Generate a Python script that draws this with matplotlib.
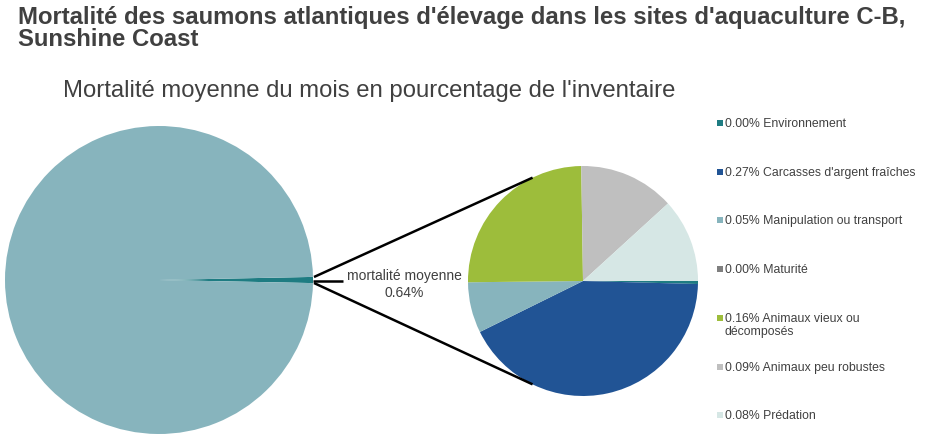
import numpy as np
import matplotlib
matplotlib.use("Agg")
import matplotlib.pyplot as plt
from matplotlib.patches import Rectangle

plt.rcParams['font.family'] = ['Liberation Sans', 'DejaVu Sans']

# ---- data ----
title = "Mortalité des saumons atlantiques d'élevage dans les sites d'aquaculture C-B,\nSunshine Coast"
subtitle = "Mortalité moyenne du mois en pourcentage de l'inventaire"
mean_label = "mortalité moyenne"
mean_mortality = 0.64          # % of inventory
categories = ["Environnement", "Carcasses d'argent fraîches", "Manipulation ou transport",
              "Maturité", "Animaux vieux ou\ndécomposés", "Animaux peu robustes", "Prédation"]
values = [0.0027, 0.273, 0.046, 0.0, 0.161, 0.087, 0.076]
colors = ["#1e7c82", "#215495", "#87b4bd", "#7f7f7f", "#9dbd3b", "#bfbfbf", "#d6e7e5"]
big_colors = ["#1e7c82", "#87b4bd"]

W, H = 928, 440
fig = plt.figure(figsize=(W / 100, H / 100), dpi=100)
ax = fig.add_axes([0, 0, 1, 1])
ax.set_xlim(0, W)
ax.set_ylim(0, H)
ax.set_aspect('equal')
ax.axis('off')

def Y(py):
    return H - py

txtc = "#404040"

# titles (anchored at the baseline of the last line)
ax.text(18, Y(46), title, fontsize=17.2, fontweight='bold', color=txtc,
        va='baseline', ha='left', linespacing=0.93)
ax.text(63, Y(97), subtitle, fontsize=17.2, color=txtc, va='baseline', ha='left')

# big pie
big_c = (159, Y(280))
big_r = 154
frac = mean_mortality / 100.0
ang = frac * 360
ax.pie([mean_mortality, 100 - mean_mortality], colors=big_colors, center=big_c, radius=big_r,
       startangle=-ang / 2, counterclock=True, frame=True,
       wedgeprops=dict(linewidth=0))

# small pie
small_c = (583, Y(281))
small_r = 115
ax.pie(values, colors=colors, center=small_c, radius=small_r, startangle=0,
       counterclock=False, frame=True, wedgeprops=dict(linewidth=0))

ax.set_xlim(0, W)
ax.set_ylim(0, H)
ax.axis('off')

# connector lines
theta = np.deg2rad(116)
bx = big_c[0] + big_r
for s in (1, -1):
    p0 = (bx + 1, big_c[1] + s * 3)
    p1 = (small_c[0] + small_r * np.cos(theta), small_c[1] + s * small_r * np.sin(theta))
    ax.plot([p0[0], p1[0]], [p0[1], p1[1]], color='black', lw=1.8, solid_capstyle='butt')
ax.plot([bx, bx + 30], [big_c[1] - 0.5, big_c[1] - 0.5], color='black', lw=1.8,
        solid_capstyle='butt')

ax.text(404, Y(276), mean_label, fontsize=10, color=txtc, ha='center', va='center')
ax.text(404, Y(293), f"{mean_mortality:.2f}%", fontsize=10, color=txtc, ha='center', va='center')

# legend
leg_y0 = 123
leg_dy = 48.7
for i, (cat, v, c) in enumerate(zip(categories, values, colors)):
    yc = leg_y0 + i * leg_dy
    ax.add_patch(Rectangle((717, Y(yc) - 3), 6, 6, facecolor=c, edgecolor='none'))
    ax.text(725, Y(yc) + 5, f"{v:.2f}% {cat}", fontsize=8.8, color=txtc,
            ha='left', va='top', linespacing=1.13)

fig.savefig("out.png", dpi=100, facecolor='white')
